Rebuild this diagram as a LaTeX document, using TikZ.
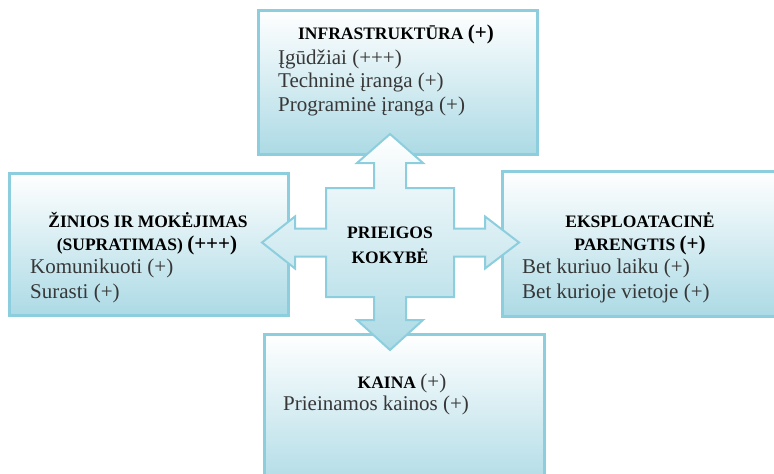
\documentclass[tikz,border=0pt]{standalone}
\usepackage{fontspec}
\setmainfont{Liberation Serif}
\definecolor{boxline}{RGB}{140,206,222}
\definecolor{boxfill}{RGB}{172,218,229}
\definecolor{itemgray}{RGB}{55,55,55}
\newcommand{\bigplus}[1]{{\fontsize{21}{24}\selectfont #1}}
\begin{document}
\begin{tikzpicture}[x=1pt,y=-1pt,
    panel/.style={draw=boxline,line width=2.5pt,top color=white,bottom color=boxfill,inner sep=0pt,anchor=north west},
    head/.style={font=\fontsize{17.5}{20}\selectfont\bfseries,inner sep=0pt,anchor=base},
    item/.style={font=\fontsize{21}{24}\selectfont,text=itemgray,inner sep=0pt,anchor=base west},
    cross/.style={draw=boxline,line width=2pt,line join=miter,top color=white,bottom color=boxfill}]
  \useasboundingbox (0,0) rectangle (774,474);
  \clip (0,0) rectangle (774,474);
  % the four panels
  \node[panel,minimum width=279,minimum height=144] (infra) at (257,9) {};
  \node[panel,minimum width=279,minimum height=142] (zinios) at (8,172) {};
  \node[panel,minimum width=290,minimum height=145] (eksp) at (501,170) {};
  \node[panel,minimum width=280,minimum height=160] (kaina) at (263,333) {};
  % four-way arrow in the middle
  \coordinate (Q) at (390,242.5);
  \draw[cross] (390,134) -- ++(33,29) -- ++(-17,0) -- ++(0,25) -- ++(48,0)
    -- ++(0,40.5) -- ++(31,0) -- ++(0,-12) -- ++(34,26) -- ++(-34,26) -- ++(0,-12)
    -- ++(-31,0) -- ++(0,40.5) -- ++(-48,0) -- ++(0,23) -- ++(17,0) -- ++(-33,30)
    -- ++(-33,-30) -- ++(17,0) -- ++(0,-23) -- ++(-48,0) -- ++(0,-40.5) -- ++(-31,0)
    -- ++(0,12) -- ++(-33,-26) -- ++(33,-26) -- ++(0,12) -- ++(31,0) -- ++(0,-40.5)
    -- ++(48,0) -- ++(0,-25) -- ++(-17,0) -- cycle;
  \node[head] (q1) at (390,238) {PRIEIGOS};
  \node[head] (q2) at (390,263) {KOKYBĖ};
  % top panel
  \node[head] (infra-h) at (396,39) {INFRASTRUKTŪRA \bigplus{(+)}};
  \node[item] (infra-1) at (278,64) {Įgūdžiai (+++)};
  \node[item] (infra-2) at (278,87) {Techninė įranga (+)};
  \node[item] (infra-3) at (278,111) {Programinė įranga (+)};
  % left panel
  \node[head] (zinios-h1) at (148,227) {ŽINIOS IR MOKĖJIMAS};
  \node[head] (zinios-h2) at (147,250) {(SUPRATIMAS) \bigplus{(+++)}};
  \node[item] (zinios-1) at (30,273) {Komunikuoti (+)};
  \node[item] (zinios-2) at (30,298) {Surasti (+)};
  % right panel
  \node[head] (eksp-h1) at (640,227) {EKSPLOATACINĖ};
  \node[head] (eksp-h2) at (640,250) {PARENGTIS \bigplus{(+)}};
  \node[item] (eksp-1) at (522,273) {Bet kuriuo laiku (+)};
  \node[item] (eksp-2) at (522,298) {Bet kurioje vietoje (+)};
  % bottom panel
  \node[head] (kaina-h) at (402,388) {KAINA \bigplus{\mdseries\color{itemgray}(+)}};
  \node[item] (kaina-1) at (283,410) {Prieinamos kainos (+)};
\end{tikzpicture}
\end{document}
